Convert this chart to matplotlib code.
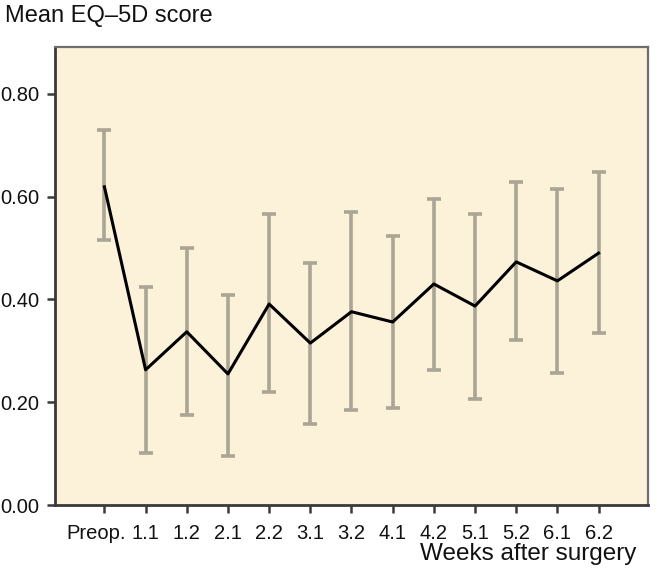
import matplotlib
matplotlib.use("Agg")
import matplotlib.pyplot as plt
import matplotlib.transforms as mtransforms
import numpy as np

plt.rcParams['font.family'] = ['Liberation Sans', 'DejaVu Sans']

# data
labels = ['Preop.', '1.1', '1.2', '2.1', '2.2', '3.1', '3.2',
          '4.1', '4.2', '5.1', '5.2', '6.1', '6.2']
mean = [0.619, 0.263, 0.337, 0.255, 0.391, 0.315, 0.376,
        0.356, 0.430, 0.387, 0.473, 0.436, 0.490]
lower = [0.515, 0.101, 0.175, 0.095, 0.220, 0.157, 0.184,
         0.189, 0.263, 0.206, 0.321, 0.257, 0.334]
upper = [0.729, 0.424, 0.500, 0.409, 0.566, 0.471, 0.570,
         0.523, 0.595, 0.566, 0.628, 0.614, 0.648]

x = np.arange(len(labels))
mean = np.array(mean)
yerr = [mean - np.array(lower), np.array(upper) - mean]

fig = plt.figure(figsize=(6.57, 5.75), dpi=100)
ax = fig.add_axes([0.0837, 0.1217, 0.9026, 0.7966])
ax.set_facecolor('#FCF1D9')

ax.errorbar(x, mean, yerr=yerr, fmt='none', ecolor='#ABA594',
            elinewidth=2.6, capsize=5, capthick=2.6, zorder=2)
ax.plot(x, mean, color='black', lw=2.2, zorder=3)

ax.set_xlim(-1.2, 13.2)
ax.set_ylim(0, 0.891)
ax.set_xticks(x)
ax.set_xticklabels(labels)
ax.set_yticks([0, 0.2, 0.4, 0.6, 0.8])
ax.set_yticklabels(['0.00', '0.20', '0.40', '0.60', '0.80'])

for s in ['left', 'bottom']:
    ax.spines[s].set_linewidth(2)
    ax.spines[s].set_color('#3a3a3a')
for s in ['top', 'right']:
    ax.spines[s].set_linewidth(1.6)
    ax.spines[s].set_color('#6e6e6e')

ax.tick_params(direction='out', length=6, width=1.8, color='#3a3a3a',
               labelsize=14.5, labelcolor='#111111', pad=5)
ax.tick_params(axis='x', pad=8)

# "Preop." sits a little left of its tick in the original
first = ax.get_xticklabels()[0]
first.set_transform(first.get_transform() +
                    mtransforms.ScaledTranslation(-8 / 100, 0, fig.dpi_scale_trans))

fig.text(0.007, 0.973, 'Mean EQ\u20135D score', fontsize=17,
         ha='left', va='center', color='#111111')
fig.text(0.968, 0.036, 'Weeks after surgery', fontsize=17.5,
         ha='right', va='center', color='#111111')

fig.savefig('out.png', dpi=100)
